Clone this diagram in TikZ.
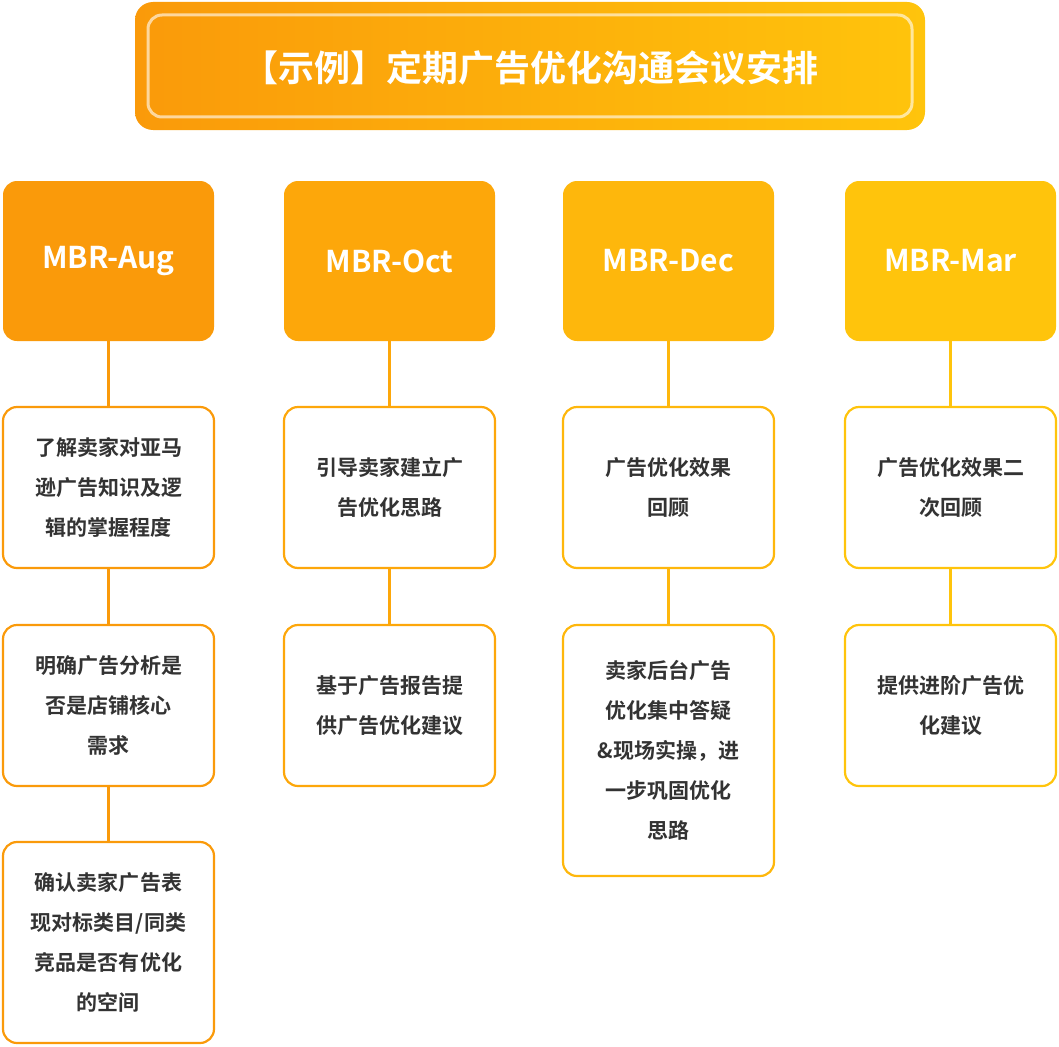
\documentclass[tikz,border=0pt]{standalone}
\usepackage{fontspec}
\setmainfont{Noto Sans CJK SC}[BoldFont={* Bold}]
\newfontfamily\cjk{Noto Sans CJK SC Bold}
\definecolor{c1}{HTML}{FA9A0A}
\definecolor{c2}{HTML}{FDA70A}
\definecolor{c3}{HTML}{FEB70C}
\definecolor{c4}{HTML}{FFC40C}
\definecolor{txt}{HTML}{333333}
\tikzset{
 head/.style={rounded corners=14pt,minimum width=211pt,minimum height=160pt,inner sep=0pt,text=white,font=\cjk\fontsize{30}{36}\selectfont},
 card/.style={rounded corners=14pt,draw=#1,line width=2.2pt,fill=white,minimum width=211pt,inner sep=0pt,text=txt,align=center,font=\cjk\fontsize{21}{40}\selectfont},
 conn/.style={draw=#1,line width=2.2pt}
}
\begin{document}
\begin{tikzpicture}[x=1pt,y=-1pt]
\useasboundingbox (0,0) rectangle (1059,1046);
\shade[rounded corners=18pt,left color=c1,right color=c4] (135,2) rectangle (925,130);
\draw[rounded corners=14pt,draw=white,opacity=0.6,line width=3pt] (148,15) rectangle (912,117);
\node (title) at (530,68) {\cjk\fontsize{36}{40}\selectfont\color{white}【示例】定期广告优化沟通会议安排};
\foreach \n/\x/\c/\t in {a/108.5/c1/MBR-Aug,b/389.5/c2/MBR-Oct,c/668.5/c3/MBR-Dec,d/950.5/c4/MBR-Mar}
 {\node[head,fill=\c] (h\n) at (\x,261) {\t};}
% column 1
\node[card=c1,minimum height=161pt] (a1) at (108.5,487.5) {了解卖家对亚马\\逊广告知识及逻\\辑的掌握程度};
\node[card=c1,minimum height=161pt] (a2) at (108.5,705.5) {明确广告分析是\\否是店铺核心\\需求};
\node[card=c1,minimum height=201pt] (a3) at (108.5,942.5) {确认卖家广告表\\现对标类目/同类\\竞品是否有优化\\的空间};
% column 2
\node[card=c2,minimum height=161pt] (b1) at (389.5,487.5) {引导卖家建立广\\告优化思路};
\node[card=c2,minimum height=161pt] (b2) at (389.5,705.5) {基于广告报告提\\供广告优化建议};
% column 3
\node[card=c3,minimum height=161pt] (c1) at (668.5,487.5) {广告优化效果\\回顾};
\node[card=c3,minimum height=251pt] (c2) at (668.5,750.5) {卖家后台广告\\优化集中答疑\\\&现场实操，进\\一步巩固优化\\思路};
% column 4
\node[card=c4,minimum height=161pt] (d1) at (950.5,487.5) {广告优化效果二\\次回顾};
\node[card=c4,minimum height=161pt] (d2) at (950.5,705.5) {提供进阶广告优\\化建议};
\draw[conn=c1] (ha) -- (a1); \draw[conn=c1] (a1) -- (a2); \draw[conn=c1] (a2) -- (a3);
\draw[conn=c2] (hb) -- (b1); \draw[conn=c2] (b1) -- (b2);
\draw[conn=c3] (hc) -- (c1); \draw[conn=c3] (c1) -- (c2);
\draw[conn=c4] (hd) -- (d1); \draw[conn=c4] (d1) -- (d2);
\end{tikzpicture}
\end{document}
